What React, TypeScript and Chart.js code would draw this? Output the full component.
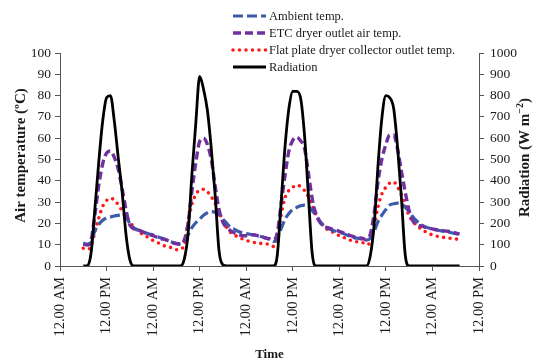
import React, { useEffect, useRef } from 'react';
import { Chart, registerables } from 'chart.js';

Chart.register(...registerables);

// Hourly readings, starting at 06:00 of the first day (hour 6 after the first 12.00 AM)
const START_HOUR = 6;

const X_TICK_LABELS = [
  '12.00 AM', '12.00 PM', '12.00 AM', '12.00 PM', '12.00 AM',
  '12.00 PM', '12.00 AM', '12.00 PM', '12.00 AM', '12.00 PM',
];

const AMBIENT = [
  10.8, 10.3, 11.0, 16.5, 19.5, 21.5, 22.5, 23.0, 23.5, 23.8,
  24.0, 23.2, 20.0, 18.0, 17.0, 16.3, 15.6, 15.0, 14.6, 13.8,
  13.2, 12.6, 11.8, 11.1, 10.6, 10.5, 12.0, 14.6, 18.0, 20.3,
  22.0, 23.8, 25.0, 25.5, 25.3, 24.0, 22.0, 20.0, 18.0, 17.2,
  16.2, 15.6, 15.2, 14.9, 14.6, 14.2, 13.7, 13.1, 12.5, 11.5,
  13.0, 17.5, 22.0, 24.7, 26.5, 27.5, 28.3, 28.6, 28.0, 26.0,
  23.8, 21.0, 19.0, 17.8, 17.0, 16.3, 15.8, 15.3, 14.5, 13.8,
  13.2, 13.0, 12.6, 12.2, 13.0, 16.5, 21.0, 24.0, 26.5, 28.6,
  29.2, 29.5, 29.2, 27.5, 25.5, 23.0, 21.0, 19.5, 18.5, 17.8,
  17.3, 17.0, 16.6, 16.3, 16.0, 15.6, 15.2, 15.0,
];

const ETC_OUTLET = [
  10.3, 9.8, 12, 24, 38, 48, 53, 54, 51, 45.5,
  36.5, 26.5, 19.3, 17.5, 17, 16.3, 15.5, 14.8, 14.2, 13.5,
  12.8, 12.5, 11.8, 11.0, 10.4, 10.2, 12, 20, 35, 48.5,
  58.5, 60, 57, 50, 37.5, 26.5, 20.5, 18, 16.5, 15.5,
  14.8, 14.2, 14.2, 14.6, 14.6, 14.2, 13.8, 13.2, 12.8, 12.2,
  15.5, 29, 42.5, 54, 59, 60.5, 58.8, 55.5, 44, 31.7,
  24.3, 20.5, 18.8, 18, 17.4, 16.9, 16.3, 15.6, 14.8, 14.2,
  13.6, 13.3, 13.0, 12.2, 15, 25, 40, 50.5, 57, 61.5,
  61.5, 55, 44.5, 34.5, 26, 21, 19.5, 18.8, 18.3, 17.8,
  17.4, 17, 16.8, 16.5, 16.3, 16, 15.5, 15,
];

const FLAT_PLATE = [
  8.3, 7.8, 9, 16, 22.5, 28, 30.7, 31.8, 31, 28.8,
  26, 23, 20.5, 18.5, 16.5, 15.2, 14.2, 13, 12, 11.2,
  10.2, 9.4, 9, 8.4, 7.6, 7.8, 10, 20, 29, 33.5,
  35.7, 36, 34.8, 32.5, 29.4, 25.5, 21, 18, 15.7, 14.5,
  13.6, 12.7, 12, 11.5, 11.1, 10.6, 10.6, 10.5, 10, 9.2,
  13, 24, 32, 35.5, 37, 38, 37.3, 35.5, 32.5, 28.5,
  24, 21, 18.5, 17, 16.2, 15.2, 14.2, 13.5, 12.7, 12,
  11.5, 11.3, 11, 10, 11.5, 19, 28, 34, 37, 39,
  39.5, 37, 33.5, 28.5, 23.5, 21, 18.8, 17.5, 16.3, 15.3,
  14.6, 14.1, 13.7, 13.4, 13.1, 13, 12.7, 12.3,
];

const RADIATION = [
  0, 0, 60, 270, 490, 680, 790, 800, 680, 510,
  350, 150, 30, 0, 0, 0, 0, 0, 0, 0,
  0, 0, 0, 0, 0, 0, 30, 150, 430, 670,
  890, 830, 730, 550, 330, 70, 5, 0, 0, 0,
  0, 0, 0, 0, 0, 0, 0, 0, 0, 0,
  50, 300, 560, 740, 820, 820, 790, 620, 340, 60,
  0, 0, 0, 0, 0, 0, 0, 0, 0, 0,
  0, 0, 0, 0, 50, 200, 480, 700, 800, 790,
  740, 560, 320, 50, 0, 0, 0, 0, 0, 0,
  0, 0, 0, 0, 0, 0, 0, 0,
];

const SERIF = '"Liberation Serif", "Times New Roman", serif';
const TEXT = '#1a1a1a';
const AXIS = '#555555';

const SERIES = [
  { label: 'Ambient temp.', data: AMBIENT, color: '#3b5bab', dash: [10, 4], width: 3.2, cap: 'butt', axis: 'y', order: 2 },
  { label: 'ETC dryer outlet air temp.', data: ETC_OUTLET, color: '#7030a0', dash: [8, 4], width: 3.4, cap: 'butt', axis: 'y', order: 1 },
  { label: 'Flat plate dryer collector outlet temp.', data: FLAT_PLATE, color: '#ff1a1a', dash: [0, 6.5], width: 3.6, cap: 'round', axis: 'y', order: 3 },
  { label: 'Radiation', data: RADIATION, color: '#000000', dash: [], width: 2.8, cap: 'butt', axis: 'y1', order: 0 },
];

const toPoints = (values: number[]) => values.map((y, i) => ({ x: START_HOUR + i, y }));

const decorPlugin = {
  id: 'decor',
  afterDraw(chart: any) {
    const ctx = chart.ctx as CanvasRenderingContext2D;
    const area = chart.chartArea;
    ctx.save();

    // Legend (vertical list)
    ctx.font = `12.5px ${SERIF}`;
    ctx.textBaseline = 'middle';
    ctx.textAlign = 'left';
    SERIES.forEach((s, i) => {
      const y = 16 + i * 17;
      ctx.save();
      ctx.strokeStyle = s.color;
      ctx.lineWidth = s.width;
      ctx.lineCap = s.cap as CanvasLineCap;
      ctx.setLineDash(s.dash);
      ctx.beginPath();
      ctx.moveTo(233, y);
      ctx.lineTo(266, y);
      ctx.stroke();
      ctx.restore();
      ctx.fillStyle = TEXT;
      ctx.fillText(s.label, 269, y + 0.5);
    });

    // Left axis title
    ctx.fillStyle = TEXT;
    ctx.font = `bold 15px ${SERIF}`;
    ctx.textAlign = 'center';
    ctx.textBaseline = 'middle';
    ctx.save();
    ctx.translate(21, (area.top + area.bottom) / 2 - 4);
    ctx.rotate(-Math.PI / 2);
    ctx.fillText('Air temperature (\u00BAC)', 0, 0);
    ctx.restore();

    // Right axis title with superscript
    ctx.save();
    ctx.translate(525, (area.top + area.bottom) / 2 - 2);
    ctx.rotate(-Math.PI / 2);
    const main = 'Radiation (W m';
    const sup = '\u22122';
    const close = ')';
    ctx.font = `bold 15px ${SERIF}`;
    const w1 = ctx.measureText(main).width;
    const w3 = ctx.measureText(close).width;
    ctx.font = `bold 10px ${SERIF}`;
    const w2 = ctx.measureText(sup).width;
    const total = w1 + w2 + w3;
    const x0 = -total / 2;
    ctx.textAlign = 'left';
    ctx.font = `bold 15px ${SERIF}`;
    ctx.fillText(main, x0, 0);
    ctx.font = `bold 10px ${SERIF}`;
    ctx.fillText(sup, x0 + w1, -5);
    ctx.font = `bold 15px ${SERIF}`;
    ctx.fillText(close, x0 + w1 + w2, 0);
    ctx.restore();

    // X axis title
    ctx.font = `bold 13px ${SERIF}`;
    ctx.textAlign = 'center';
    ctx.fillText('Time', (area.left + area.right) / 2, 355);

    ctx.restore();
  },
};

export default function App() {
  const canvasRef = useRef<HTMLCanvasElement | null>(null);

  useEffect(() => {
    if (!canvasRef.current) return;
    const chart = new Chart(canvasRef.current, {
      type: 'line',
      data: {
        datasets: SERIES.map((s) => ({
          label: s.label,
          data: toPoints(s.data),
          borderColor: s.color,
          backgroundColor: s.color,
          borderWidth: s.width,
          borderDash: s.dash,
          borderCapStyle: s.cap as CanvasLineCap,
          pointRadius: 0,
          pointHoverRadius: 0,
          cubicInterpolationMode: 'monotone' as const,
          yAxisID: s.axis,
          order: s.order,
          fill: false,
        })),
      },
      options: {
        animation: false,
        responsive: true,
        maintainAspectRatio: false,
        layout: { padding: { top: 53, left: 0, right: 0, bottom: 0 } },
        plugins: {
          legend: { display: false },
          tooltip: { enabled: false },
        },
        scales: {
          x: {
            type: 'linear',
            position: 'bottom',
            min: 0,
            max: 108,
            afterFit: (s: any) => { s.height = 97; },
            ticks: {
              stepSize: 12,
              autoSkip: false,
              maxRotation: 90,
              minRotation: 90,
              padding: 6,
              color: TEXT,
              font: { family: SERIF, size: 14.5 },
              callback: (_v: any, i: number) => X_TICK_LABELS[i],
            },
            grid: { display: true, drawOnChartArea: false, drawTicks: true, tickLength: 5, color: AXIS },
            border: { display: true, color: AXIS, width: 1 },
          },
          y: {
            type: 'linear',
            position: 'left',
            min: 0,
            max: 100,
            afterFit: (s: any) => { s.width = 60; },
            ticks: {
              stepSize: 10,
              padding: 4,
              color: TEXT,
              font: { family: SERIF, size: 13.5 },
              callback: (v: any) => String(v),
            },
            grid: { display: true, drawOnChartArea: false, drawTicks: true, tickLength: 5, color: AXIS },
            border: { display: true, color: AXIS, width: 1 },
          },
          y1: {
            type: 'linear',
            position: 'right',
            min: 0,
            max: 1000,
            afterFit: (s: any) => { s.width = 60; },
            ticks: {
              stepSize: 100,
              padding: 6,
              color: TEXT,
              font: { family: SERIF, size: 13.5 },
              callback: (v: any) => String(v),
            },
            grid: { display: true, drawOnChartArea: false, drawTicks: true, tickLength: 5, color: AXIS },
            border: { display: true, color: AXIS, width: 1 },
          },
        },
      },
      plugins: [decorPlugin],
    });
    return () => chart.destroy();
  }, []);

  return (
    <div style={{ position: 'absolute', left: 0, top: 0, width: 539, height: 363, background: '#ffffff' }}>
      <canvas ref={canvasRef} />
    </div>
  );
}
